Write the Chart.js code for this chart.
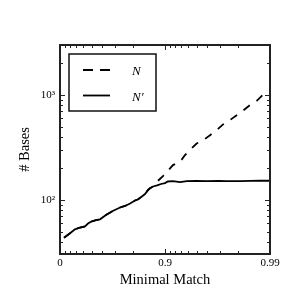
<!DOCTYPE html>
<html>
<head>
<meta charset="utf-8">
<script src="https://cdn.jsdelivr.net/npm/chart.js@4.4.1/dist/chart.umd.min.js"></script>
<style>
  html, body { margin: 0; padding: 0; background: #fff; }
</style>
</head>
<body>
<canvas id="chart" width="300" height="300"></canvas>
<script>
// Minimal match threshold and number of bases
const matchN = [
  0.084, 0.197, 0.28, 0.355, 0.422, 0.459, 0.493, 0.546, 0.584, 0.635,
  0.689, 0.732, 0.76, 0.785, 0.807, 0.82, 0.834, 0.845, 0.855, 0.861,
  0.87, 0.883, 0.8955, 0.904, 0.916, 0.928, 0.9355, 0.942, 0.95, 0.9565,
  0.963, 0.968, 0.972, 0.976, 0.9794, 0.9819, 0.9845, 0.9867, 0.9883, 0.99,
];
const basesN = [
  43.7, 48.2, 52.6, 54.7, 56, 59.7, 62.1, 64.3, 65.5, 72,
  79.1, 84.8, 87.7, 92.6, 98.9, 101.6, 108, 114, 124.5, 129.2,
  134.5, 152, 169, 185, 215, 230, 268, 299, 345, 369,
  416, 464, 524, 578, 645, 708, 803, 883, 1000, 1090,
];

const matchNPrime = [
  0.084, 0.197, 0.28, 0.355, 0.422, 0.459, 0.493, 0.546, 0.584, 0.635,
  0.689, 0.732, 0.76, 0.785, 0.807, 0.82, 0.834, 0.845, 0.855, 0.861,
  0.87, 0.881, 0.891, 0.9, 0.906, 0.916, 0.928, 0.938, 0.95, 0.96,
  0.969, 0.974, 0.981, 0.9845, 0.9875, 0.99,
];
const basesNPrime = [
  43.7, 48.2, 52.6, 54.7, 56, 59.7, 62.1, 64.3, 65.5, 72,
  79.1, 84.8, 87.7, 92.6, 98.9, 101.6, 108, 114, 124.5, 129.2,
  134.5, 137.5, 142, 145, 150, 151, 148, 151, 152, 151,
  152, 151, 151, 152, 152.5, 152.5,
];

const seriesLabels = ["N", "N\u2032"];

// x axis is drawn against -log10(1 - match)
const xTickMatches = [0, 0.9, 0.99];
const xTickLabels = ["0", "0.9", "0.99"];
const xMinorMatches = [
  0.1, 0.2, 0.3, 0.4, 0.5, 0.6, 0.7, 0.8,
  0.91, 0.92, 0.93, 0.94, 0.95, 0.96, 0.97, 0.98,
];

const yTickValues = [100, 1000];
const yTickLabels = ["10\u00b2", "10\u00b3"];
const yMinorValues = [40, 50, 60, 70, 80, 90, 200, 300, 400, 500, 600, 700, 800, 900, 2000];

const SERIF = "'Liberation Serif', 'Times New Roman', serif";

function toAxis(m) {
  return -Math.log10(1 - m);
}

function points(matches, values) {
  return matches.map((m, i) => ({ x: toAxis(m), y: values[i] }));
}

/**
 * Frame round the plot with inward ticks on all four sides
 */
const frameTicks = {
  id: "frameTicks",
  afterDraw(chart) {
    const { ctx, chartArea: a, scales } = chart;
    ctx.save();
    ctx.strokeStyle = "#222";
    ctx.lineWidth = 1;
    ctx.beginPath();
    for (const t of scales.x.ticks) {
      const px = Math.round(scales.x.getPixelForValue(t.value)) + 0.5;
      const len = t.label ? 5 : 3;
      ctx.moveTo(px, a.bottom);
      ctx.lineTo(px, a.bottom - len);
      ctx.moveTo(px, a.top);
      ctx.lineTo(px, a.top + len);
    }
    for (const t of scales.y.ticks) {
      const py = Math.round(scales.y.getPixelForValue(t.value)) + 0.5;
      const len = t.label ? 5 : 3;
      ctx.moveTo(a.left, py);
      ctx.lineTo(a.left + len, py);
      ctx.moveTo(a.right, py);
      ctx.lineTo(a.right - len, py);
    }
    ctx.stroke();
    ctx.lineWidth = 2;
    ctx.strokeRect(a.left, a.top, a.right - a.left, a.bottom - a.top);
    ctx.restore();
  },
};

/**
 * Boxed legend in the upper left corner of the plot
 */
const boxLegend = {
  id: "boxLegend",
  afterDraw(chart) {
    const { ctx, chartArea: a } = chart;
    const x0 = a.left + 9;
    const y0 = a.top + 9;
    ctx.save();
    ctx.strokeStyle = "#111";
    ctx.lineWidth = 1.5;
    ctx.strokeRect(x0, y0, 87, 57);
    chart.data.datasets.forEach((ds, i) => {
      const y = y0 + 16 + i * 25.5;
      ctx.strokeStyle = ds.borderColor;
      ctx.lineWidth = ds.borderWidth;
      ctx.setLineDash(i === 0 ? [10, 7] : []);
      ctx.beginPath();
      ctx.moveTo(x0 + 14, y);
      ctx.lineTo(x0 + 41, y);
      ctx.stroke();
      ctx.setLineDash([]);
      ctx.fillStyle = "#000";
      ctx.font = "italic 13px " + SERIF;
      ctx.textBaseline = "middle";
      ctx.fillText(ds.label, x0 + 63, y + 2);
    });
    ctx.restore();
  },
};

new Chart(document.getElementById("chart"), {
  type: "line",
  data: {
    datasets: [
      {
        label: seriesLabels[0],
        data: points(matchN, basesN),
        borderColor: "#000",
        borderWidth: 1.8,
        borderDash: [8, 8],
        pointRadius: 0,
        fill: false,
        tension: 0,
      },
      {
        label: seriesLabels[1],
        data: points(matchNPrime, basesNPrime),
        borderColor: "#000",
        borderWidth: 1.8,
        pointRadius: 0,
        fill: false,
        tension: 0,
      },
    ],
  },
  options: {
    responsive: false,
    animation: false,
    devicePixelRatio: 1,
    layout: {
      padding: { top: 45, right: 30, left: 0, bottom: 0 },
    },
    plugins: {
      legend: { display: false },
      tooltip: { enabled: false },
    },
    scales: {
      x: {
        type: "linear",
        min: 0,
        max: 2,
        grid: { display: false, drawTicks: false },
        border: { display: false },
        afterBuildTicks: (scale) => {
          scale.ticks = [...xTickMatches, ...xMinorMatches]
            .map(toAxis)
            .sort((p, q) => p - q)
            .map((v) => ({ value: v }));
        },
        afterFit: (scale) => {
          scale.height = 46;
        },
        ticks: {
          autoSkip: false,
          maxRotation: 0,
          padding: 3,
          color: "#000",
          font: { family: SERIF, size: 11 },
          callback: (value) => {
            const i = xTickMatches.findIndex((m) => Math.abs(toAxis(m) - value) < 1e-6);
            return i >= 0 ? xTickLabels[i] : "";
          },
        },
        title: {
          display: true,
          text: "Minimal Match",
          color: "#000",
          font: { family: SERIF, size: 14.5 },
          padding: { top: 0, bottom: 11 },
        },
      },
      y: {
        type: "logarithmic",
        min: 30.6,
        max: 2990,
        grid: { display: false, drawTicks: false },
        border: { display: false },
        afterBuildTicks: (scale) => {
          scale.ticks = [...yMinorValues, ...yTickValues]
            .sort((p, q) => p - q)
            .map((v) => ({ value: v }));
        },
        afterFit: (scale) => {
          scale.width = 60;
        },
        ticks: {
          autoSkip: false,
          padding: 5,
          color: "#000",
          font: { family: SERIF, size: 11 },
          callback: (value) => {
            const i = yTickValues.indexOf(value);
            return i >= 0 ? yTickLabels[i] : "";
          },
        },
        title: {
          display: true,
          text: "# Bases",
          color: "#000",
          font: { family: SERIF, size: 14.5 },
          padding: { top: 16, bottom: 0 },
        },
      },
    },
  },
  plugins: [frameTicks, boxLegend],
});
</script>
</body>
</html>
